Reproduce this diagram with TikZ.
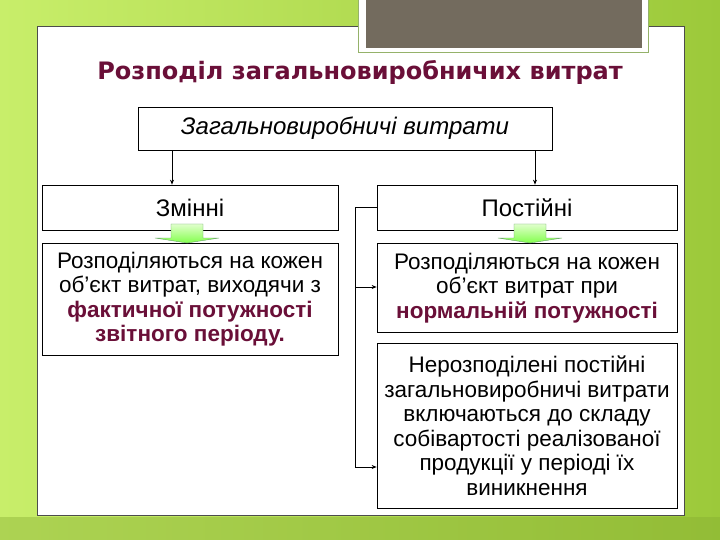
\documentclass[tikz,border=0pt]{standalone}
\usepackage{fontspec}
\setmainfont{Liberation Sans}
\newfontfamily\titlefont{DejaVu Sans}
\usetikzlibrary{arrows.meta}
\definecolor{maroon}{HTML}{6A0F38}
\definecolor{bgl}{HTML}{C8EE6A}
\definecolor{bgr}{HTML}{9CC93A}
\definecolor{greyb}{HTML}{736B5E}
\tikzset{
  box/.style={draw=black, line width=0.7pt, fill=white, align=center, inner sep=0pt, font=\fontsize{22.5}{24.5}\selectfont},
  conn/.style={draw=black, line width=0.8pt, -{Stealth[length=5pt,width=4pt]}},
  bigarrow/.style={draw=green!40!black!60, line width=0.4pt, top color=yellow!40!green!20, bottom color=green!70!yellow!70}
}
\begin{document}
\begin{tikzpicture}[x=1pt,y=-1pt]
\useasboundingbox (0,0) rectangle (720,540);
\shade[left color=bgl, right color=bgr] (0,0) rectangle (720,540);
\fill[bgr!85!black, opacity=0.4] (0,517) rectangle (720,540);
\draw[fill=white, draw=black!70, line width=0.6pt] (37,26) rectangle (684,515);
\draw[fill=white, draw=yellow!50!green!50!gray, line width=1pt] (358,-2) rectangle (648,53);
\fill[greyb] (366,-2) rectangle (642,48);
\node[font=\titlefont\bfseries\fontsize{24}{26}\selectfont, text=maroon] (title) at (360,72) {Розподіл загальновиробничих витрат};
\node[box, minimum width=414, minimum height=43, font=\itshape\fontsize{24}{26}\selectfont] (top) at (345,128.5) {Загальновиробничі витрати};
\node[box, minimum width=296, minimum height=45, font=\fontsize{24}{26}\selectfont] (zm) at (190,207.5) {Змінні};
\node[box, minimum width=300, minimum height=45, font=\fontsize{24}{26}\selectfont] (po) at (527,207.5) {Постійні};
\node[box, minimum width=296, minimum height=112, anchor=north] (l1) at (190,243) {Розподіляються на кожен\\об’єкт витрат, виходячи з\\\textcolor{maroon}{\bfseries фактичної потужності}\\\textcolor{maroon}{\bfseries звітного періоду.}};
\node[box, minimum width=300, minimum height=89, anchor=north] (r1) at (527,243) {Розподіляються на кожен\\об’єкт витрат при\\\textcolor{maroon}{\bfseries нормальній потужності}};
\node[box, minimum width=300, minimum height=165, anchor=north] (r2) at (527,343) {Нерозподілені постійні\\загальновиробничі витрати\\включаються до складу\\собівартості реалізованої\\продукції у періоді їх\\виникнення};
\draw[conn] (top.south -| 172,0) -- (zm.north -| 172,0);
\draw[conn] (top.south -| 535,0) -- (po.north -| 535,0);
\coordinate (bk) at (355,207.5);
\draw[line width=0.8pt] (po.west) -- (bk) -- (355,467);
\draw[conn] (355,287) -- (r1.west |- 0,287);
\draw[conn] (355,467) -- (r2.west |- 0,467);
\foreach \cx/\nm in {187/ga,530/gb}{
  \draw[bigarrow] (\cx-16,224) -- (\cx+16,224) -- (\cx+16,238) -- (\cx+32,238) -- (\cx,243) -- (\cx-32,238) -- (\cx-16,238) -- cycle;
}
\end{tikzpicture}
\end{document}
